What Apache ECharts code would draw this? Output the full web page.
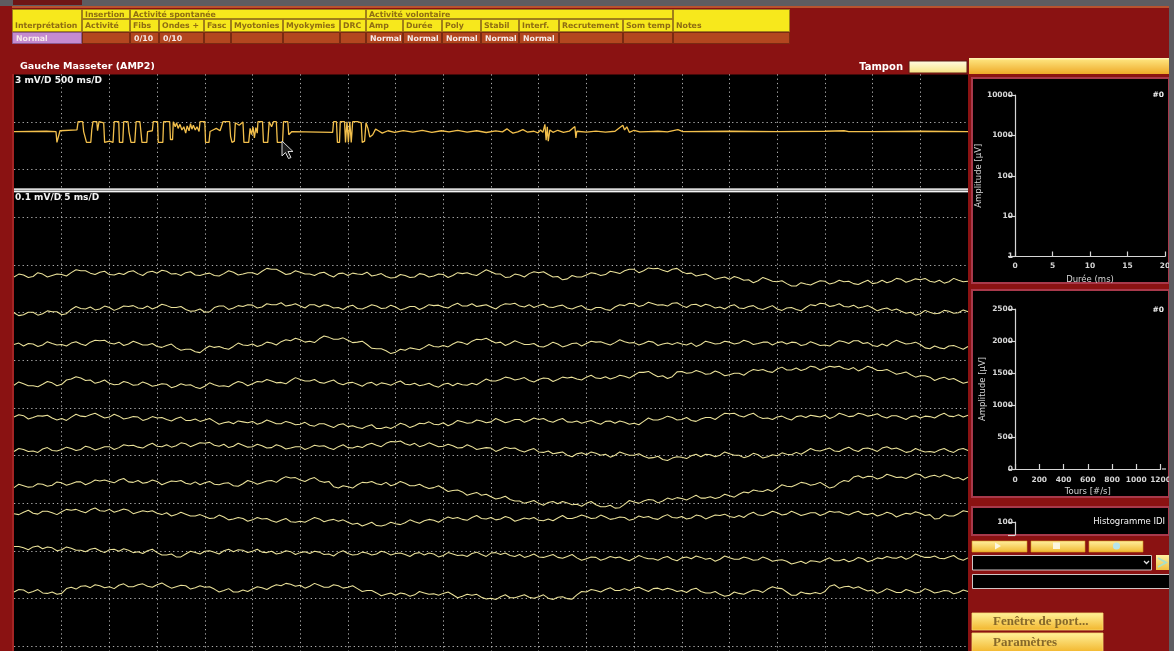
<!DOCTYPE html>
<html><head><meta charset="utf-8">
<script src="https://cdn.jsdelivr.net/npm/echarts@6/dist/echarts.min.js"></script>
<style>html,body{margin:0;padding:0;background:#8a1212;overflow:hidden}#c{width:1174px;height:651px}</style>
</head><body><div id="c"></div><script>
// ---------------- DATA ----------------
const tableColumns = ['Interprétation','Activité','Fibs','Ondes +','Fasc','Myotonies','Myokymies','DRC','Amp','Durée','Poly','Stabil','Interf.','Recrutement','Som temp','Notes'];
const tableGroups = ['Insertion','Activité spontanée','Activité volontaire'];
const tableValues = ['Normal','','0/10','0/10','','','','','Normal','Normal','Normal','Normal','Normal','','',''];
const muscleTitle = 'Gauche Masseter (AMP2)';
const bufferLabel = 'Tampon';
const topScaleLabel = '3 mV/D 500 ms/D';
const bottomScaleLabel = '0.1 mV/D 5 ms/D';
const panelTag = '#0';
const durationTicks = [0,5,10,15,20];
const amplitudeLogTicks = [1,10,100,1000,10000];
const firingTicks = [0,200,400,600,800,1000,1200];
const amplitudeTicks = [0,500,1000,1500,2000,2500];
const histTicks = [0,100];
const histTitle = 'Histogramme IDI';
const buttonLabels = ['Fenêtre de port...','Paramètres'];

// top sweep: [time ms, mV]
const topTrace = [[0,0],[340,0.02],[440,0],[450,-0.68],[470,-0.68],[482,0.05],[660,0.1],[672,0.62],[720,0.62],[730,0],[760,-0.68],[805,-0.68],[815,0.1],[828,0.62],[868,0.62],[876,0.05],[891,0.62],[940,0.55],[950,-0.68],[1000,-0.6],[1038,-0.68],[1050,0.62],[1098,0.62],[1105,-0.68],[1140,-0.68],[1150,0.62],[1195,0.62],[1205,0],[1226,-0.68],[1266,-0.68],[1280,0.62],[1320,0.62],[1330,0],[1341,-0.68],[1392,-0.68],[1400,0],[1450,0.05],[1460,0.62],[1505,0.62],[1512,-0.68],[1560,-0.68],[1568,0.62],[1632,0.62],[1640,-0.5],[1662,-0.5],[1670,0.62],[1690,0.3],[1705,0.55],[1720,0.2],[1740,0.45],[1760,0.1],[1780,0.3],[1800,-0.1],[1815,0.35],[1835,0.05],[1850,0.5],[1865,0.15],[1880,0.4],[1900,0.1],[1918,0.3],[1940,0],[1950,0.62],[2000,0.62],[2008,-0.68],[2044,-0.68],[2055,0],[2086,0.1],[2120,0.2],[2160,0.05],[2190,0.62],[2260,0.62],[2270,-0.3],[2285,-0.68],[2310,-0.6],[2320,0.55],[2360,0.4],[2400,0.6],[2410,-0.68],[2460,-0.68],[2475,0.2],[2490,-0.2],[2505,0.3],[2520,-0.4],[2535,0.25],[2550,-0.1],[2557,0.62],[2605,0.62],[2615,-0.68],[2660,-0.68],[2675,0.62],[2700,0.3],[2720,0.62],[2750,0.62],[2760,-0.68],[2815,-0.68],[2825,0.62],[2870,0.62],[2880,-0.2],[2913,0],[3340,-0.05],[3350,0.62],[3380,0.62],[3390,-0.68],[3412,-0.68],[3420,0.62],[3465,0.62],[3475,-0.68],[3490,0.62],[3505,-0.68],[3520,0.62],[3535,-0.68],[3550,0.62],[3600,0.62],[3640,0.55],[3650,-0.68],[3675,-0.6],[3690,0.55],[3710,0.2],[3730,-0.35],[3760,-0.2],[3790,0.15],[3820,0.05],[3860,-0.1],[3920,0.05],[3990,-0.05],[4080,0.06],[4180,-0.04],[4280,0.07],[4380,-0.05],[4480,0.05],[4560,-0.02],[4650,0.08],[4750,-0.03],[4850,0.05],[4950,-0.06],[5050,0.04],[5120,-0.02],[5167,0.17],[5200,0.02],[5230,-0.1],[5280,-0.02],[5334,0.12],[5380,-0.03],[5450,0.02],[5492,-0.08],[5520,0.1],[5544,-0.05],[5565,0.45],[5578,-0.55],[5590,0.3],[5600,-0.6],[5617,0.1],[5650,-0.05],[5700,0.08],[5760,-0.05],[5820,0.02],[5879,0.32],[5890,-0.4],[5900,0.02],[6000,-0.04],[6100,0.03],[6200,-0.03],[6300,0.02],[6382,0.4],[6400,0.1],[6424,0.3],[6450,-0.05],[6500,0.08],[6560,-0.02],[6650,0],[6750,0.02],[6850,-0.02],[6959,0.12],[7011,0],[7500,0.02],[8000,-0.01],[8500,0.02],[8700,0.05],[8750,0],[9000,-0.01],[9500,0.02],[10000,0]];

// bottom sweeps, µV. traceN: samples at whole ms (0..100); traceNh: samples at half ms (0.5..99.5)
const trace1 = [-2,2,-1,4,1,3,7,11,6,8,3,6,9,5,8,6,10,5,7,2,4,1,5,8,4,7,10,14,9,5,8,4,6,2,5,1,4,8,2,-1,-3,1,-2,3,0,3,1,5,3,7,9,4,-2,2,5,7,3,-1,-6,-2,2,5,3,8,11,14,11,15,12,14,9,6,2,-1,-4,-7,-4,-8,-10,-7,-12,-16,-21,-17,-14,-11,-14,-12,-16,-13,-16,-9,-11,-7,-10,-8,-11,-9,-12,-9,-11];
const trace1h = [4,-3,7,-2,4,0,13,11,3,10,2,3,11,1,10,12,4,1,9,1,6,0,11,2,7,3,16,14,3,11,4,1,8,-2,6,6,3,0,5,-4,3,-3,5,-2,4,-3,7,7,1,13,4,-3,4,-2,9,9,-2,-8,1,-2,7,1,10,5,14,7,17,16,9,16,5,0,4,-7,-2,-1,-9,-14,-3,-11,-10,-21,-14,-19,-10,-17,-9,-11,-18,-9,-14,-14,-5,-13,-6,-5,-13,-15,-5,-12];
const trace2 = [-10,-14,-9,-12,-8,-14,-3,-1,2,-2,1,-1,3,0,4,2,5,1,-3,-6,-9,1,4,0,3,6,2,7,11,6,4,7,2,5,1,3,-1,2,4,0,2,-1,3,1,5,2,6,4,9,5,2,5,8,4,7,5,2,4,0,2,-2,1,-3,2,5,9,6,9,7,10,5,7,3,5,2,4,0,3,-1,1,-2,0,-3,1,5,9,5,3,6,2,0,-2,-5,-7,-9,-12,-9,-11,-7,-10,-8];
const trace2h = [-16,-9,-15,-6,-8,-12,3,-2,-4,4,-5,4,5,-1,-2,8,1,3,-7,-2,-8,4,-3,5,7,0,9,7,4,9,0,7,7,0,-3,6,-2,7,-1,6,-4,3,-3,7,6,0,10,4,3,7,-2,9,10,2,1,8,1,6,-2,5,-4,1,-5,7,10,3,12,6,4,11,1,8,8,0,-2,7,-1,5,-3,5,-5,1,-6,7,10,3,9,2,0,5,-6,0,-2,-11,-15,-5,-12,-5,-11,-4];
const trace3 = [1,-2,2,0,3,1,4,2,6,9,4,6,2,4,0,-3,-1,-6,-9,-14,-8,-5,-7,-3,0,2,0,4,7,9,11,8,13,16,12,10,6,1,-8,-12,-15,-11,-8,-5,-3,-1,2,5,8,11,9,6,3,5,1,-3,0,2,-1,4,3,6,3,5,7,5,3,6,2,1,2,4,1,5,3,6,4,7,3,6,5,2,5,1,3,0,4,7,9,3,-1,2,5,6,3,1,-8,-6,-2,-5,-3];
const trace3h = [4,3,-3,7,0,-2,7,-1,10,10,2,-1,8,0,3,-5,2,-11,-9,-16,-2,-3,-9,4,-1,-3,6,0,11,14,6,5,19,12,15,5,8,-7,-8,-18,-9,-6,-10,1,-4,-4,7,1,12,14,4,-1,9,1,3,-4,6,-4,3,-2,8,7,0,11,4,0,8,-1,4,5,0,-3,8,2,8,2,10,1,6,0,7,6,-1,7,-1,-2,9,3,9,5,-3,-2,10,2,6,-6,-2,-8,-1,-9];
const trace4 = [-11,-8,-12,-9,-6,-9,2,4,0,-4,-7,-9,-6,-10,-8,-11,-9,-13,-11,-15,-13,-10,-12,-8,-6,-8,-4,-2,-5,-1,1,-2,-5,-3,-7,-6,-9,-7,-11,-8,-6,-9,-7,-10,-12,-9,-12,-10,-7,-4,-2,1,4,2,-1,1,3,1,4,2,6,4,7,5,8,10,16,12,9,7,18,15,17,13,15,11,14,17,20,18,23,21,25,23,27,25,27,24,26,23,25,20,17,14,11,9,6,3,1,-2,-4];
const trace4h = [-4,-12,-14,-3,-12,0,7,-1,-7,0,-10,-3,-11,-4,-13,-8,-16,-8,-10,-18,-6,-13,-14,-3,-12,-3,1,-6,-8,5,-2,1,-7,0,-10,-5,-13,-5,-6,-11,-2,-10,-12,-7,-15,-7,-7,-11,-10,2,-2,6,0,5,-4,4,-3,6,6,0,10,3,2,10,4,16,18,7,3,17,14,20,12,19,9,14,10,22,22,16,27,21,20,29,21,29,29,22,19,29,20,22,12,17,6,9,-1,6,3,-7];
const trace5 = [4,7,3,6,2,1,4,6,9,7,4,6,2,4,0,2,-1,1,-3,0,-2,-5,-8,-10,-6,-5,-8,-6,-10,-8,-11,-13,-10,-14,-12,-16,-18,-15,-20,-17,-15,-12,-14,-10,-11,-8,-10,-6,-8,-4,-6,-3,-5,-1,-3,-1,-4,-2,-6,-4,-6,-8,-5,-9,-7,-9,-5,-2,1,3,-1,-3,0,3,6,11,7,9,5,2,4,1,5,3,6,8,5,9,6,10,8,5,7,3,5,2,5,8,6,9,8];
const trace5h = [9,0,7,8,-2,-3,10,5,12,2,10,0,5,-3,5,3,-4,4,-3,-5,1,-11,-6,-4,-8,-11,-2,-10,-5,-12,-7,-15,-10,-18,-10,-14,-20,-12,-20,-20,-9,-18,-9,-6,-12,-14,-3,-9,-2,-8,1,-8,-1,-7,2,1,-7,1,-7,-9,-3,-11,-4,-4,-11,-12,2,-2,6,-2,3,-5,3,-1,12,12,4,12,1,-1,6,-2,7,8,4,1,12,5,12,6,11,2,7,-1,7,6,2,12,5,4];
const trace6 = [-3,1,-2,2,-1,1,3,1,5,3,7,5,9,6,10,8,11,9,13,11,14,10,12,8,10,7,9,5,8,4,7,5,8,4,7,5,8,11,10,14,17,13,14,10,11,8,9,5,7,3,4,1,3,-1,0,-4,-2,-6,-11,-8,-10,-7,-9,-11,-8,-11,-13,-16,-20,-17,-15,-12,-14,-10,-11,-8,-11,-13,-10,-14,-12,-9,-5,-3,-1,1,-2,2,0,3,1,4,2,0,-3,-1,-3,0,-2,1,-1];
const trace6h = [3,-3,-5,5,-2,6,-1,8,0,7,1,11,10,4,14,7,6,15,7,15,16,8,5,14,6,12,4,11,2,7,1,10,9,1,11,4,5,14,7,18,19,10,7,15,7,12,4,11,1,5,-3,6,4,-4,3,-5,-8,-4,-14,-6,-4,-11,-15,-4,-11,-8,-17,-13,-22,-14,-18,-9,-9,-14,-4,-11,-16,-7,-17,-10,-6,-10,-9,3,-2,4,-3,6,-3,4,-3,7,4,-5,3,-4,-5,3,-5,3];
const trace7 = [5,9,7,12,10,15,13,17,15,19,18,21,17,20,16,18,15,18,14,17,15,12,14,9,13,17,15,20,23,25,21,23,19,18,4,7,11,15,13,16,12,14,9,7,5,3,-1,-4,-8,-11,-14,-17,-20,-23,-25,-28,-26,-29,-27,-30,-28,-31,-35,-38,-30,-25,-23,-21,-23,-20,-18,-16,-17,-14,-15,-12,-9,-6,-2,1,4,8,11,14,12,10,7,20,27,25,28,26,30,27,29,32,29,27,29,26,27];
const trace7h = [12,6,13,8,17,10,17,11,21,21,15,24,16,14,21,11,19,20,12,11,18,11,15,8,20,12,19,16,28,26,18,26,16,7,9,4,16,18,11,9,18,9,12,3,9,-3,0,-11,-5,-9,-19,-13,-23,-28,-22,-32,-24,-24,-31,-34,-24,-35,-32,-37,-22,-28,-20,-27,-17,-16,-21,-11,-17,-18,-9,-15,-4,0,-3,-3,11,7,16,10,16,4,15,18,30,29,23,33,26,24,34,25,31,32,24,21];
const trace8 = [7,10,8,12,9,11,14,12,15,13,16,13,14,10,11,8,9,5,6,2,1,-2,0,-4,-3,-6,-4,-8,-7,-10,-9,-6,-4,-7,-9,-11,-13,-15,-18,-16,-14,-12,-10,-8,-7,-5,-3,-5,-1,-3,-1,-4,-2,-6,-4,-7,-4,-2,-3,0,1,-2,0,-3,-1,-4,-1,-3,1,-1,1,-2,2,0,3,1,3,6,4,7,9,6,8,6,9,7,10,7,9,6,8,5,7,4,6,8,5,-3,2,7,11];
const trace8h = [5,14,6,12,5,16,16,9,19,12,10,17,7,13,13,5,2,10,2,5,-3,4,-6,-1,-9,-1,-3,-11,-3,-11,-11,-1,-10,-5,-6,-15,-19,-11,-19,-11,-16,-6,-13,-5,-11,0,-1,-7,3,-4,-6,1,-9,-2,-1,-8,-8,3,-3,4,-3,4,-5,0,-7,2,1,-5,5,-2,-4,4,-4,4,6,-1,-1,10,3,12,4,12,3,9,3,12,11,4,12,5,2,10,0,8,11,3,-4,5,2,13];
const trace9 = [18,15,17,13,15,11,14,10,12,9,11,8,10,7,9,5,0,-4,2,5,8,6,9,7,10,8,6,8,4,7,5,3,6,2,5,3,1,4,2,5,3,1,3,0,2,-1,2,0,3,1,4,1,-1,1,-2,-4,-2,-5,-3,-6,-8,-5,-8,-6,-9,-7,-5,-8,-6,-9,-6,-8,-5,-7,-9,-6,-9,-7,-10,-8,-11,-13,-16,-18,-13,-10,-12,-9,-11,-8,-11,-8,-6,-3,-5,-2,-5,-7,-4,-8,-6];
const trace9h = [18,11,19,17,9,17,10,7,14,5,12,13,5,3,12,0,2,-4,8,2,9,2,12,11,5,12,5,2,9,1,7,8,1,-2,9,0,6,0,8,0,4,-3,5,4,-4,5,-1,-3,6,-3,5,4,-3,-5,2,-5,1,-7,1,-11,-4,-11,-3,-4,-12,-1,-8,-11,-3,-12,-4,-2,-9,-13,-2,-9,-4,-11,-4,-13,-10,-19,-13,-12,-15,-6,-12,-14,-5,-14,-6,-3,-7,-9,2,-5,-2,-8,-1,-11];
const trace10 = [-2,2,-1,-4,-2,-5,8,10,7,11,9,12,9,13,10,13,11,9,11,7,8,4,1,-2,2,4,7,9,11,14,12,10,12,8,11,8,5,1,-4,-7,-9,-6,-8,-4,-6,-5,-8,-11,-9,-13,-15,-12,-14,-11,-13,-12,-15,-13,-16,-8,-2,1,3,1,5,6,3,5,2,3,1,3,-1,-4,-7,-9,-5,-2,1,4,6,-2,-9,-5,-3,-1,13,9,6,4,2,-1,1,-3,0,-2,1,-2,0,-3,-1];
const trace10h = [3,-4,3,-5,-7,5,4,11,13,7,5,15,9,15,8,17,6,12,4,11,9,-2,5,-2,-1,9,3,13,16,10,6,16,8,13,6,11,-1,1,-10,-4,-4,-11,-1,-7,-9,-2,-14,-7,-7,-17,-18,-8,-14,-8,-15,-8,-18,-12,-17,-1,3,-2,7,1,1,8,-1,6,6,-1,-3,6,-4,-1,-11,-2,-7,2,-3,9,5,-9,-2,-6,-6,10,6,10,9,0,-5,5,-3,3,-4,5,-4,1,-6,2];
const bottomTraces = [[trace1,trace1h],[trace2,trace2h],[trace3,trace3h],[trace4,trace4h],[trace5,trace5h],[trace6,trace6h],[trace7,trace7h],[trace8,trace8h],[trace9,trace9h],[trace10,trace10h]];

// ---------------- LAYOUT ----------------
const PX = 14, PW = 954;
const DIV = 47.7, GTOP = 74.3;
const traceCenters = [276,308,345,380,419,450,490,517,555,591];
const colEdges = [12,82,130,159,204,231,283,340,366,403,442,481,519,559,623,673,790];
const groupCols = [[1,1],[2,7],[8,14]];

const FT = 'bold 7.8px "DejaVu Sans"';
const FV = 'bold 7.8px "DejaVu Sans"';
const G = [];
const rect = (x,y,w,h,fill,o={}) => G.push(Object.assign({type:'rect',silent:true,z:-1,shape:{x,y,width:w,height:h},style:Object.assign({fill},o.style||{})}, o.el||{}));
const txt = (x,y,text,font,fill,align,o={}) => G.push(Object.assign({type:'text',silent:true,z:20,x,y,style:{text,font,fill,align:align||'left',verticalAlign:'middle'}},o));
const grad = (a,b) => new echarts.graphic.LinearGradient(0,0,0,1,[{offset:0,color:a},{offset:1,color:b}]);

// window strip
rect(0,0,1174,6,'#5e5c61');
rect(13,0,69,5,'#6e1616');
rect(12,6,1157,2,'#b9532f');
// table
const YEL='#f7e81c', YB='#a0801a', TXT='#8e6c12';
const cell=(x,y,w,h,fill,stroke)=>rect(x+0.5,y+0.5,w-1,h-1,fill,{style:{stroke,lineWidth:1}});
groupCols.forEach(([a,b],k)=>{cell(colEdges[a],9,colEdges[b+1]-colEdges[a],10,YEL,YB);txt(colEdges[a]+3,14.5,tableGroups[k],FT,TXT);});
tableColumns.forEach((name,i)=>{
  const x=colEdges[i], w=colEdges[i+1]-x;
  if(i===0||i===tableColumns.length-1) cell(x,9,w,23,YEL,YB); else cell(x,19,w,13,YEL,YB);
  txt(x+3,26,name,FT,TXT);
  cell(x,32,w,12,i===0?'#c58bd0':'#b3461f',i===0?'#8a5a90':'#7a2a12');
  if(tableValues[i]) txt(x+4,38.5,tableValues[i],FV,'#f6eaea');
});
// header line
txt(20,67,muscleTitle,'bold 9.5px "DejaVu Sans"','#ffffff');
txt(903,67,bufferLabel,'bold 10px "DejaVu Sans"','#ffffff','right');
rect(909,61,58,12,grad('#fffbe6','#f6e27e'),{style:{stroke:'#5a1a14',lineWidth:1}});
rect(969,58,200,16,grad('#ffe985','#eea928'));
rect(969,58,200,1.5,'#fff2b0',{el:{z:-0.5}});
// sweep area
rect(12,74,2,577,'#a42424');
rect(PX,74.5,PW,114.5,'#000');
rect(PX,192,PW,459,'#000');
rect(PX,188.6,PW,3.6,'#8c8c8c',{el:{z:5}});
rect(PX,188.6,PW,1.2,'#f4f4f4',{el:{z:5}});
rect(PX,191.1,PW,1.2,'#f4f4f4',{el:{z:5}});
txt(15,81,topScaleLabel,'bold 9px "DejaVu Sans"','#f2f2f2');
txt(15,198,bottomScaleLabel,'bold 9px "DejaVu Sans"','#f2f2f2');
// cursor
G.push({type:'polygon',silent:true,z:30,shape:{points:[[282,141],[282,156],[285.5,152.5],[288.5,158.5],[291,157.5],[288,151.5],[293,151.5]]},style:{fill:'#1c1c1c',stroke:'#d8d8d8',lineWidth:1}});
// right panels
const panelBox=(y,h)=>{rect(972,y,197,h,'#000',{style:{stroke:'#a8394b',lineWidth:2}});};
panelBox(78,205); panelBox(290,207); panelBox(507,28);
txt(1164,95,panelTag,'bold 7.5px "DejaVu Sans"','#f0f0f0','right');
txt(1164,310,panelTag,'bold 7.5px "DejaVu Sans"','#f0f0f0','right');
txt(1165,522,histTitle,'8.5px "DejaVu Sans"','#f4f4f4','right');
// small buttons
[[972,55],[1031,54],[1089,54]].forEach(([x,w])=>rect(x,541,w,11,grad('#fff0a0','#f0b830'),{style:{stroke:'#d89a20',lineWidth:0.6}}));
G.push({type:'polygon',silent:true,z:20,shape:{points:[[995,542.5],[995,549.5],[1001,546]]},style:{fill:'#fbf6e0'}});
rect(1053,542.5,7,6.5,'#fbf6e0',{el:{z:20}});
G.push({type:'circle',silent:true,z:20,shape:{cx:1116.5,cy:546,r:3.6},style:{fill:'#b6e4ea'}});
rect(972.5,555.5,179,14.5,'#000',{style:{stroke:'#cfc6c6',lineWidth:1}});
G.push({type:'polyline',silent:true,z:20,shape:{points:[[1144,561],[1146.5,563.5],[1149,561]]},style:{stroke:'#e0e0e0',lineWidth:1.3,fill:null}});
rect(1156,555,13,15,grad('#fff0a0','#f0c040'));
G.push({type:'polyline',silent:true,z:20,shape:{points:[[1158,558],[1166,562.5],[1158,567]]},style:{stroke:'#a8e0c8',lineWidth:2,fill:null}});
rect(972.5,574.5,197,14,'#000',{style:{stroke:'#cfc6c6',lineWidth:1}});
[[613,17],[633,19]].forEach(([y,h],k)=>{
  rect(972,y,131,h,grad('#fff19a','#f2b62c'),{style:{stroke:'#f7d870',lineWidth:0.8}});
  txt(993,y+h/2+0.5,buttonLabels[k],'bold 13px "Liberation Serif"','#86682a');
});
rect(1169,0,5,651,'#5e5c61',{el:{z:50}});

// ---------------- CHART ----------------
const grids=[], xAxes=[], yAxes=[], series=[];
const hid={axisLine:{show:false},axisTick:{show:false},axisLabel:{show:false},splitLine:{show:false}};
const dots={show:true,showMinLine:false,showMaxLine:false,lineStyle:{type:[1.3,3],color:'rgba(215,215,215,0.8)',width:1}};
grids.push({left:PX,top:GTOP,width:PW,height:DIV*12.1});
xAxes.push({gridIndex:0,type:'value',min:0,max:20,interval:1,axisLine:{show:false},axisTick:{show:false},axisLabel:{show:false},splitLine:dots});
yAxes.push({gridIndex:0,type:'value',min:0,max:12.1,interval:1,inverse:true,axisLine:{show:false},axisTick:{show:false},axisLabel:{show:false},splitLine:dots});
grids.push({left:PX,top:GTOP,width:PW,height:114.5});
xAxes.push(Object.assign({gridIndex:1,type:'value',min:0,max:10000},hid));
yAxes.push(Object.assign({gridIndex:1,type:'value',min:-3.6,max:3.6},hid));
series.push({type:'line',xAxisIndex:1,yAxisIndex:1,data:topTrace,showSymbol:false,silent:true,lineStyle:{color:'#f3c04c',width:1.3},z:3});
bottomTraces.forEach(([whole,half],k)=>{
  const gi=grids.length;
  grids.push({left:PX,top:traceCenters[k]-DIV/2,width:PW,height:DIV});
  xAxes.push(Object.assign({gridIndex:gi,type:'value',min:0,max:100},hid));
  yAxes.push(Object.assign({gridIndex:gi,type:'value',min:-50,max:50},hid));
  const pts=[];
  whole.forEach((v,i)=>{pts.push([i,v]); if(i<half.length) pts.push([i+0.5,half[i]]);});
  series.push({type:'line',xAxisIndex:gi,yAxisIndex:gi,data:pts,showSymbol:false,silent:true,lineStyle:{color:'#ebe29a',width:1.05},z:3});
});
const axC='#d6d6d6';
const lab=(m)=>({color:axC,fontSize:7.5,fontWeight:'bold',fontFamily:'DejaVu Sans',margin:m,formatter:v=>String(v)});
const nameTS={color:axC,fontSize:8.5,fontFamily:'DejaVu Sans'};
const last=a=>a[a.length-1];
let gi=grids.length;
grids.push({left:1015,top:95,width:150,height:161.5});
xAxes.push({gridIndex:gi,type:'value',min:durationTicks[0],max:last(durationTicks),interval:durationTicks[1]-durationTicks[0],name:'Durée (ms)',nameLocation:'middle',nameGap:19,nameTextStyle:nameTS,axisLine:{lineStyle:{color:axC,width:1.2}},axisTick:{inside:true,length:5,lineStyle:{color:axC,width:1.2}},axisLabel:lab(6),splitLine:{show:false}});
yAxes.push({gridIndex:gi,type:'log',logBase:10,min:amplitudeLogTicks[0],max:last(amplitudeLogTicks),name:'Amplitude [µV]',nameLocation:'middle',nameGap:28,nameRotate:90,nameTextStyle:nameTS,axisLine:{show:true,lineStyle:{color:axC,width:1.2}},axisTick:{show:true,length:7,lineStyle:{color:axC,width:1.2}},axisLabel:lab(2),splitLine:{show:false},minorTick:{show:false}});
gi=grids.length;
grids.push({left:1015,top:309,width:147,height:160});
xAxes.push({gridIndex:gi,type:'value',min:firingTicks[0],max:last(firingTicks),interval:firingTicks[1]-firingTicks[0],name:'Tours [#/s]',nameLocation:'middle',nameGap:18,nameTextStyle:nameTS,axisLine:{lineStyle:{color:axC,width:1.2}},axisTick:{inside:true,length:5,lineStyle:{color:axC,width:1.2}},axisLabel:lab(7),splitLine:{show:false}});
yAxes.push({gridIndex:gi,type:'value',min:amplitudeTicks[0],max:last(amplitudeTicks),interval:amplitudeTicks[1]-amplitudeTicks[0],name:'Amplitude [µV]',nameLocation:'middle',nameGap:28,nameRotate:90,nameTextStyle:nameTS,axisLine:{show:true,lineStyle:{color:axC,width:1.2}},axisTick:{show:true,length:7,lineStyle:{color:axC,width:1.2}},axisLabel:lab(2),splitLine:{show:false}});
gi=grids.length;
grids.push({left:1015,top:522,width:150,height:13});
xAxes.push(Object.assign({gridIndex:gi,type:'value',min:0,max:1},hid));
yAxes.push({gridIndex:gi,type:'value',min:histTicks[0],max:last(histTicks),interval:last(histTicks),axisLine:{show:true,lineStyle:{color:axC,width:1.2}},axisTick:{show:true,length:7,lineStyle:{color:axC,width:1.2}},axisLabel:Object.assign(lab(2),{formatter:v=>v===last(histTicks)?String(v):''}),splitLine:{show:false}});
G.push({type:'line',silent:true,z:1,shape:{x1:1162,y1:469,x2:1166,y2:469},style:{stroke:axC,lineWidth:1.2}});

const chart = echarts.init(document.getElementById('c'),null,{renderer:'canvas',width:1174,height:651});
chart.setOption({backgroundColor:'#8a1212',animation:false,grid:grids,xAxis:xAxes,yAxis:yAxes,series:series,graphic:{elements:G}});
</script></body></html>
